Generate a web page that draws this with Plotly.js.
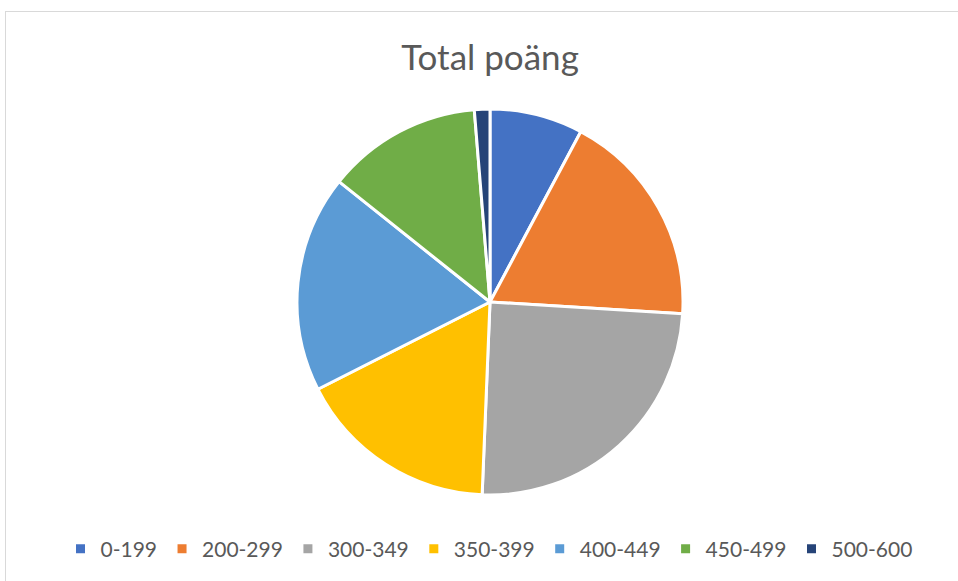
<!DOCTYPE html>
<html>
<head>
<meta charset="utf-8">
<script src="https://cdn.plot.ly/plotly-3.0.1.min.js"></script>
<style>
html,body{margin:0;padding:0;background:#fff;overflow:hidden;}
#chart{width:958px;height:581px;}
#frame{position:absolute;left:5px;top:11px;width:1200px;height:1200px;border:1px solid #d9d9d9;pointer-events:none;}
</style>
</head>
<body>
<div id="chart"></div>
<div id="frame"></div>
<script>
const categories = ["0-199", "200-299", "300-349", "350-399", "400-449", "450-499", "500-600"];
const counts = [6, 14, 19, 13, 14, 10, 1];
const colors = ["#4472C4", "#ED7D31", "#A5A5A5", "#FFC000", "#5B9BD5", "#70AD47", "#264478"];

const W = 958, H = 581;
const cx = 490, cy = 302, r = 193;

const trace = {
  type: "pie",
  labels: categories,
  values: counts,
  sort: false,
  direction: "clockwise",
  rotation: 0,
  textinfo: "none",
  marker: {colors: colors, line: {color: "#ffffff", width: 3}},
  domain: {
    x: [(cx - r) / W, (cx + r) / W],
    y: [(H - (cy + r)) / H, (H - (cy - r)) / H]
  }
};

const layout = {
  width: W, height: H,
  margin: {l: 0, r: 0, t: 0, b: 0},
  paper_bgcolor: "#ffffff",
  font: {family: "Lato, 'Open Sans', sans-serif", color: "#595959"},
  title: {
    text: "Total poäng",
    font: {family: "Lato, 'Open Sans', sans-serif", size: 35, color: "#595959"},
    x: 490 / W, xanchor: "center",
    y: 1 - 58 / H, yanchor: "middle", yref: "container"
  },
  showlegend: true,
  legend: {
    orientation: "h",
    x: 489 / W, xanchor: "center",
    y: (H - 549) / H, yanchor: "middle",
    font: {size: 21, color: "#595959"},
    itemclick: false
  }
};

Plotly.newPlot("chart", [trace], layout, {displayModeBar: false});
</script>
</body>
</html>
